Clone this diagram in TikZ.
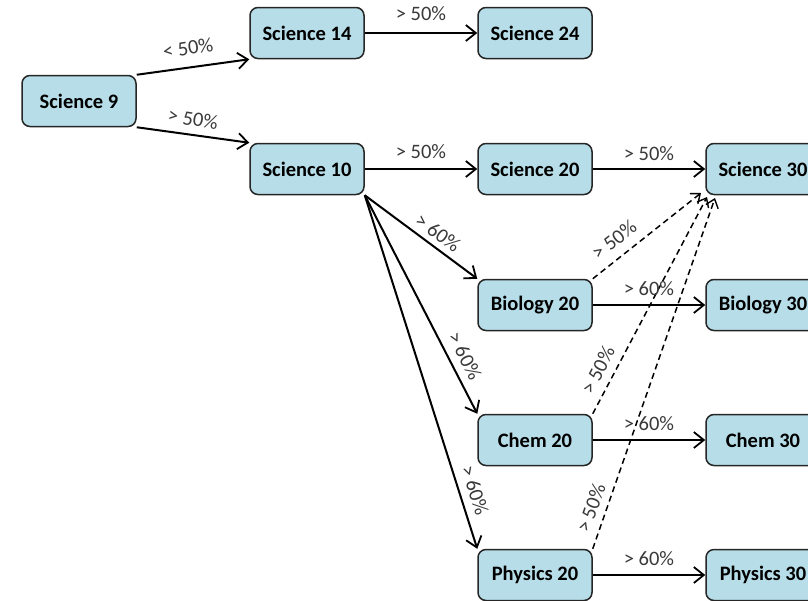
\documentclass[tikz,border=0pt]{standalone}
\usepackage{fontspec}
\setmainfont{Carlito}
\usetikzlibrary{arrows.meta,calc}
\definecolor{boxfill}{HTML}{B7DEE8}
\definecolor{boxline}{HTML}{262626}
\definecolor{labelcol}{HTML}{3A3A3A}
\tikzset{
  course/.style={draw=boxline, line width=1.5pt, fill=boxfill, rounded corners=8pt,
    minimum width=114pt, minimum height=51pt, inner sep=0pt,
    font=\fontsize{20.5}{24}\selectfont\bfseries, text=black},
  flow/.style={line width=2pt, -{Straight Barb[length=10pt,width=16pt,line width=1.8pt]}},
  alt/.style={line width=1.5pt, dash pattern=on 6pt off 4pt, -{Straight Barb[length=8pt,width=13pt,line width=1.4pt]}},
  lab/.style={font=\fontsize{20.5}{24}\selectfont, text=labelcol, inner sep=1pt}
}
\begin{document}
\begin{tikzpicture}[x=1pt,y=-1pt]
\clip (0,0) rectangle (808,600);
\fill[white] (0,0) rectangle (808,600);

\node[course] (s9)  at (79,101) {Science 9};
\node[course] (s14) at (307,33) {Science 14};
\node[course] (s24) at (535,33) {Science 24};
\node[course] (s10) at (307,169) {Science 10};
\node[course] (s20) at (535,169) {Science 20};
\node[course] (s30) at (763,169) {Science 30};
\node[course] (b20) at (535,305) {Biology 20};
\node[course] (b30) at (763,305) {Biology 30};
\node[course] (c20) at (535,440) {Chem 20};
\node[course] (c30) at (763,440) {Chem 30};
\node[course] (p20) at (535,575) {Physics 20};
\node[course] (p30) at (763,575) {Physics 30};

\coordinate (tb) at (701,193);
\coordinate (tc) at (707,197);
\coordinate (tp) at (715,198);

% solid arrows
\draw[flow] (s9.north east) -- (s14.south west);
\draw[flow] (s9.south east) -- (s10.north west);
\draw[flow] (s14.east) -- (s24.west);
\draw[flow] (s10.east) -- (s20.west);
\draw[flow] (s20.east) -- (s30.west);
\draw[flow] (s10.south east) -- (b20.north west);
\draw[flow] (s10.south east) -- (c20.north west);
\draw[flow] (s10.south east) -- (p20.north west);
\draw[flow] (b20.east) -- (b30.west);
\draw[flow] (c20.east) -- (c30.west);
\draw[flow] (p20.east) -- (p30.west);

% dashed arrows
\draw[alt] (b20.north east) -- (tb);
\draw[alt] (c20.north east) -- (tc);
\draw[alt] (p20.north east) -- (tp);

% labels
\node[lab, rotate=8.5]  (l1) at (188,48) {< 50\%};
\node[lab, rotate=-9]   (l2) at (193,119) {> 50\%};
\node[lab] (l3) at (421,14) {> 50\%};
\node[lab] (l4) at (421,152) {> 50\%};
\node[lab] (l5) at (649,154) {> 50\%};
\node[lab, rotate=-36] (l6) at (438,233) {> 60\%};
\node[lab, rotate=-63] (l7) at (465,356) {> 60\%};
\node[lab, rotate=-72] (l8) at (475,490) {> 60\%};
\node[lab] (l9) at (649,289) {> 60\%};
\node[lab] (l10) at (649,424) {> 60\%};
\node[lab] (l11) at (649,559) {> 60\%};
\node[lab, rotate=38] (l12) at (614,240) {> 50\%};
\node[lab, rotate=63] (l13) at (598,370) {> 50\%};
\node[lab, rotate=70] (l14) at (591,508) {> 50\%};
\end{tikzpicture}
\end{document}
